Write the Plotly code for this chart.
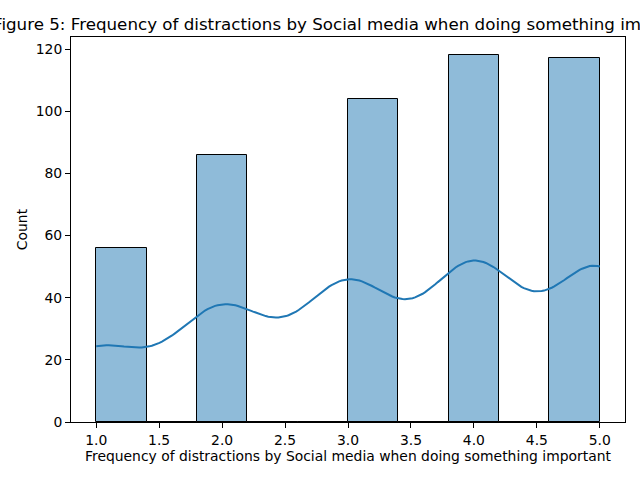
import numpy as np
import plotly.graph_objects as go

# survey answers (1-5) and how many people gave each one
answers = [1, 2, 3, 4, 5]
counts = [56, 86, 104, 118, 117]

title = "Figure 5: Frequency of distractions by Social media when doing something important"
xlabel = "Frequency of distractions by Social media when doing something important"

data = np.repeat(answers, counts).astype(float)

# histogram like seaborn: 10 bins over the data range
hist, edges = np.histogram(data, bins=10, range=(data.min(), data.max()))
centers = (edges[:-1] + edges[1:]) / 2
bin_width = edges[1] - edges[0]

# gaussian kde, scott bandwidth, scaled to counts
n = len(data)
bw = n ** (-1 / 5) * data.std(ddof=1)
grid = np.linspace(data.min(), data.max(), 200)
dens = np.exp(-0.5 * ((grid[:, None] - data[None, :]) / bw) ** 2).sum(axis=1)
dens = dens / (n * bw * np.sqrt(2 * np.pi))
kde_counts = dens * n * bin_width

fig = go.Figure()
fig.add_trace(go.Bar(
    x=centers, y=hist, width=bin_width,
    marker=dict(color="rgba(31,119,180,0.5)", line=dict(color="black", width=1)),
    showlegend=False,
))
fig.add_trace(go.Scatter(
    x=grid, y=kde_counts, mode="lines",
    line=dict(color="#1f77b4", width=2), showlegend=False,
))

fig.update_layout(
    width=640, height=480,
    margin=dict(l=71, r=15, t=37, b=58, autoexpand=False),
    plot_bgcolor="white", paper_bgcolor="white",
    font=dict(family="DejaVu Sans", size=13.9, color="black"),
    bargap=0,
)
fig.add_annotation(
    text=title, xref="paper", yref="paper", x=0.5, y=1, yshift=1,
    xanchor="center", yanchor="bottom", showarrow=False,
    font=dict(family="DejaVu Sans", size=16.7, color="black"),
)
fig.add_annotation(
    text=xlabel, xref="paper", yref="paper", x=0.5, y=0, yshift=-24,
    xanchor="center", yanchor="top", showarrow=False,
    font=dict(family="DejaVu Sans", size=13.9, color="black"),
)
fig.update_xaxes(
    range=[0.8, 5.2], tickvals=[1.0, 1.5, 2.0, 2.5, 3.0, 3.5, 4.0, 4.5, 5.0],
    ticktext=["1.0", "1.5", "2.0", "2.5", "3.0", "3.5", "4.0", "4.5", "5.0"],
    showline=True, linecolor="black", linewidth=1, mirror=True,
    ticks="outside", ticklen=5, tickcolor="black", showgrid=False, zeroline=False,
    tickfont=dict(size=13.9), automargin=False,
)
fig.update_yaxes(
    range=[0, 123.9], tickvals=[0, 20, 40, 60, 80, 100, 120],
    showline=True, linecolor="black", linewidth=1, mirror=True,
    ticks="outside", ticklen=5, tickcolor="black", showgrid=False, zeroline=False,
    tickfont=dict(size=13.9), automargin=False,
    title=dict(text="Count", standoff=4, font=dict(size=13.9)),
)

fig.write_html("out.html", config={"displayModeBar": False},
               post_script="document.body.style.margin = '0';")
